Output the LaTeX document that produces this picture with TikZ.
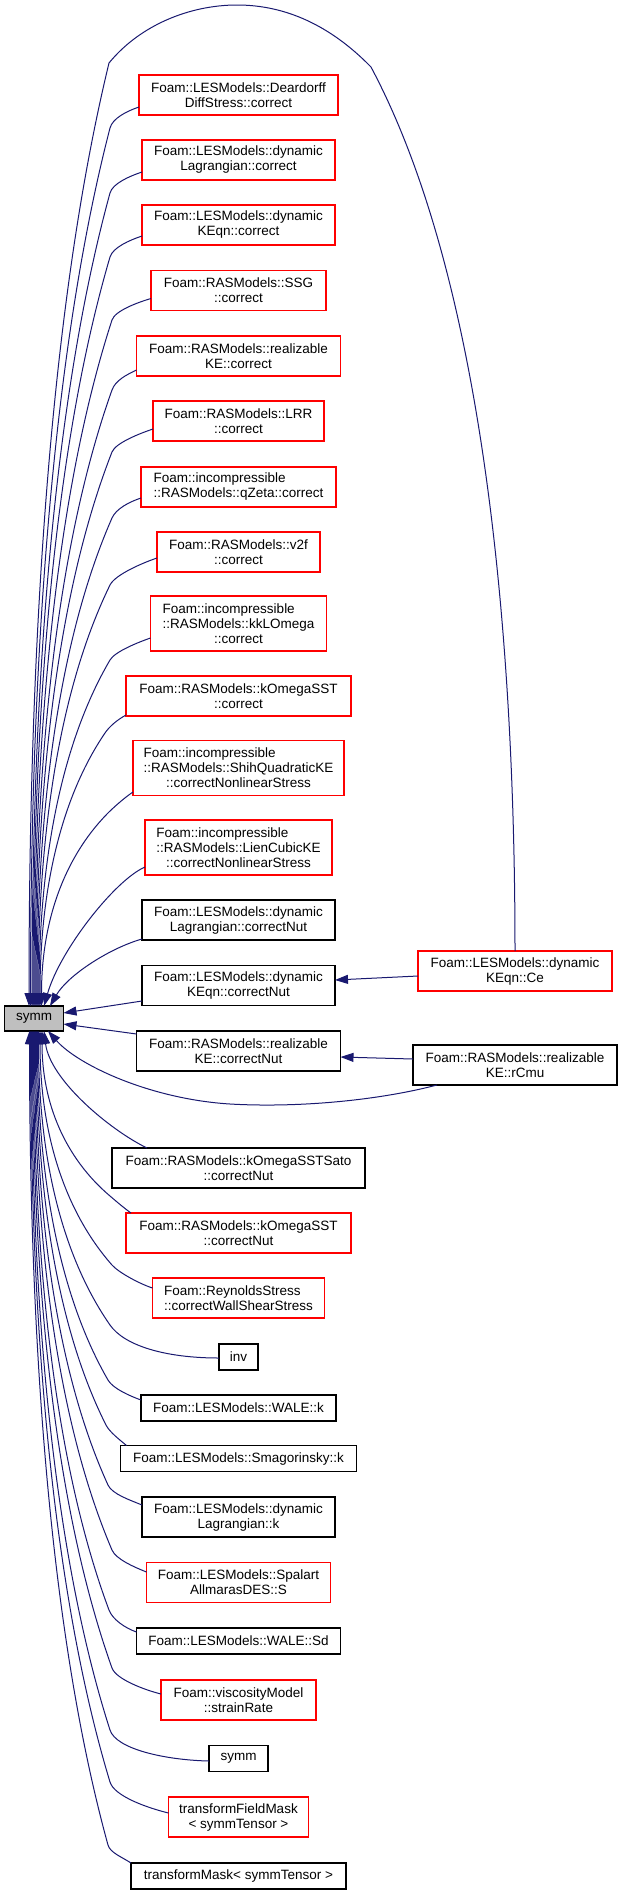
\documentclass[tikz,border=0pt]{standalone}
\usepackage{fontspec}
\setmainfont{Liberation Sans}
\usetikzlibrary{arrows.meta,calc}
\definecolor{edgeblue}{HTML}{191970}
\definecolor{boxred}{HTML}{FF0000}
\definecolor{focusgray}{HTML}{BFBFBF}
\tikzset{
  box/.style={draw=black, line width=1.1pt, fill=white, inner sep=0pt, outer sep=0pt,
    align=center, font=\fontsize{13.5}{15}\selectfont},
  redbox/.style={box, draw=boxred},
  edge/.style={draw=edgeblue, line width=1pt, -{Triangle[length=13pt,width=9pt]}},
}
\newcommand\leftln[2]{\rlap{#1}\phantom{#2}}
% #1 start, #2 C1, #3 pull, #4 knee, #5 Q, #6 end (numeric), #7 end anchor
\newcommand\cedge[7]{\draw[edge] (#1) .. controls (#2) and ($(#4)!-#3pt!(#5)$) .. (#4) .. controls ($(#4)!2/3!(#5)$) and ($(#6)!2/3!(#5)$) .. (#7);}
\begin{document}
\begin{tikzpicture}[x=1pt,y=-1pt]
\useasboundingbox[fill=white] (0,0) rectangle (623,1895);

% focus node
\node[box, fill=focusgray, minimum width=59pt, minimum height=25pt] (symm) at (34,1018.5) {symm};

% callers column
\node[redbox, minimum width=199pt, minimum height=40pt] (dd) at (238.5,95) {Foam::LESModels::Deardorff\\DiffStress::correct};
\node[redbox, minimum width=193pt, minimum height=40pt] (dlc) at (238.5,160) {Foam::LESModels::dynamic\\Lagrangian::correct};
\node[redbox, minimum width=193pt, minimum height=40pt] (dkc) at (238.5,225) {Foam::LESModels::dynamic\\KEqn::correct};
\node[redbox, minimum width=175pt, minimum height=40pt] (ssg) at (238.5,290.5) {Foam::RASModels::SSG\\::correct};
\node[redbox, minimum width=204pt, minimum height=40pt] (rkc) at (238.5,356) {Foam::RASModels::realizable\\KE::correct};
\node[redbox, minimum width=171pt, minimum height=40pt] (lrr) at (238.5,421) {Foam::RASModels::LRR\\::correct};
\node[redbox, minimum width=195pt, minimum height=40pt] (qz) at (238.5,487) {\leftln{Foam::incompressible}{::RASModels::qZeta::correct}\\::RASModels::qZeta::correct};
\node[redbox, minimum width=163pt, minimum height=40pt] (v2f) at (238.5,552) {Foam::RASModels::v2f\\::correct};
\node[redbox, minimum width=176pt, minimum height=55pt] (kkl) at (238.5,623.5) {\leftln{Foam::incompressible}{::RASModels::kkLOmega}\\::RASModels::kkLOmega\\::correct};
\node[redbox, minimum width=225pt, minimum height=40pt] (koc) at (238.5,696) {Foam::RASModels::kOmegaSST\\::correct};
\node[redbox, minimum width=211pt, minimum height=55pt] (shih) at (238.5,768) {\leftln{Foam::incompressible}{::RASModels::ShihQuadraticKE}\\::RASModels::ShihQuadraticKE\\::correctNonlinearStress};
\node[redbox, minimum width=187pt, minimum height=55pt] (lien) at (238.5,847.5) {\leftln{Foam::incompressible}{::RASModels::LienCubicKE}\\::RASModels::LienCubicKE\\::correctNonlinearStress};
\node[box, minimum width=193pt, minimum height=40pt] (dlcn) at (238.5,920) {Foam::LESModels::dynamic\\Lagrangian::correctNut};
\node[box, minimum width=193pt, minimum height=40pt] (dkcn) at (238.5,985.5) {Foam::LESModels::dynamic\\KEqn::correctNut};
\node[box, minimum width=204pt, minimum height=40pt] (rkcn) at (238.5,1051) {Foam::RASModels::realizable\\KE::correctNut};
\node[box, minimum width=253pt, minimum height=40pt] (sato) at (238.5,1168) {Foam::RASModels::kOmegaSSTSato\\::correctNut};
\node[redbox, minimum width=225pt, minimum height=40pt] (kocn) at (238.5,1233) {Foam::RASModels::kOmegaSST\\::correctNut};
\node[redbox, minimum width=172pt, minimum height=40pt] (rs) at (238.5,1298) {\leftln{Foam::ReynoldsStress}{::correctWallShearStress}\\::correctWallShearStress};
\node[box, minimum width=39pt, minimum height=26pt] (inv) at (238.5,1357) {inv};
\node[box, minimum width=195pt, minimum height=26pt] (walek) at (238.5,1408) {Foam::LESModels::WALE::k};
\node[box, minimum width=236pt, minimum height=26pt] (smag) at (238.5,1458.5) {Foam::LESModels::Smagorinsky::k};
\node[box, minimum width=193pt, minimum height=40pt] (dlk) at (238.5,1517) {Foam::LESModels::dynamic\\Lagrangian::k};
\node[redbox, minimum width=184pt, minimum height=40pt] (sa) at (238.5,1582.5) {Foam::LESModels::Spalart\\AllmarasDES::S};
\node[box, minimum width=204pt, minimum height=26pt] (walesd) at (238.5,1641) {Foam::LESModels::WALE::Sd};
\node[redbox, minimum width=155pt, minimum height=40pt] (visc) at (238.5,1700) {Foam::viscosityModel\\::strainRate};
\node[box, minimum width=59pt, minimum height=26pt] (symm2) at (238.5,1758.5) {symm};
\node[redbox, minimum width=140pt, minimum height=40pt] (tfm) at (238.5,1817) {transformFieldMask\\< symmTensor >};
\node[box, minimum width=215pt, minimum height=26pt] (tm) at (238.5,1876) {transformMask< symmTensor >};

% right column
\node[redbox, minimum width=194pt, minimum height=40pt] (ce) at (515,971) {Foam::LESModels::dynamic\\KEqn::Ce};
\node[box, minimum width=204pt, minimum height=40pt] (rcmu) at (515,1065) {Foam::RASModels::realizable\\KE::rCmu};

% edge from Ce over the top
\draw[edge] (ce.north) .. controls (515,700) and (495,300) .. (371,67)
  .. controls (330,25) and (285,5) .. (237,5)
  .. controls (190,5) and (140,25) .. (109,63)
  .. controls (55.7,283) and (29,597) .. ([xshift=-5pt]symm.north);

% upper callers
\cedge{[yshift=-12pt]dd.west}{127,111}{10}{110,128}{30.5,435.3}{30.5,1006}{[xshift=-3.5pt]symm.north}
\cedge{[yshift=-12pt]dlc.west}{130,176}{10}{110,193}{32,477.6}{32,1006}{[xshift=-2pt]symm.north}
\cedge{[yshift=-11pt]dkc.west}{130,240}{10}{110,257}{33,519.2}{33,1006}{[xshift=-1pt]symm.north}
\cedge{[yshift=-8pt]ssg.west}{139,302}{10}{112,320}{34,560.1}{34,1006}{symm.north}
\cedge{[yshift=-14pt]rkc.west}{126,375}{10}{112,390}{35,605.6}{35,1006}{[xshift=1pt]symm.north}
\cedge{[yshift=-8pt]lrr.west}{141,433}{10}{112,452}{36,645.9}{36,1006}{[xshift=2pt]symm.north}
\cedge{[yshift=-11pt]qz.west}{129,502}{10}{112,518}{37,688.8}{37,1006}{[xshift=3pt]symm.north}
\cedge{[yshift=-6pt]v2f.west}{145,562}{12}{110,585}{38,732.4}{38,1006}{[xshift=4pt]symm.north}
\cedge{[yshift=-14.5pt]kkl.west}{139,642}{10}{110,660}{39,781.1}{39,1006}{[xshift=5pt]symm.north}
\cedge{[yshift=-19pt]koc.west}{117,720}{8}{105,733}{40,828.6}{40,1006}{[xshift=6pt]symm.north}
\cedge{[yshift=-24pt]shih.west}{124,798}{8}{107,814}{41.5,881.2}{41.5,1006}{[xshift=7.5pt]symm.north}
\draw[edge] ([yshift=-19.5pt]lien.west) .. controls (115,880) and (60,950) .. ([xshift=10pt]symm.north);
\draw[edge] ([yshift=-19pt]dlcn.west) .. controls (110,948) and (68,975) .. ([xshift=16pt]symm.north);

% side callers
\draw[edge] ([yshift=-15.5pt]dkcn.west) -- ([yshift=5.5pt]symm.east);
\draw[edge] ([yshift=17pt]rkcn.west) -- ([yshift=-5.5pt]symm.east);
\draw[edge] ([yshift=-5pt]ce.west) -- ([yshift=5.5pt]dkcn.east);
\draw[edge] ([yshift=6pt]rcmu.west) -- ([yshift=-6pt]rkcn.east);
\draw[edge] ([xshift=-78pt]rcmu.south) .. controls (380,1100) and (300,1108) .. (230,1104)
  .. controls (150,1099) and (78,1065) .. ([xshift=14pt]symm.south);

% lower callers
\draw[edge] ([xshift=35pt]sato.north west) .. controls (110,1130) and (50,1080) .. ([xshift=10pt]symm.south);
\cedge{[xshift=5pt]kocn.north west}{124,1208}{8}{110,1196}{42,1138.3}{42,1031}{[xshift=8pt]symm.south}
\cedge{[yshift=10pt]rs.west}{140,1284}{10}{112,1265}{40,1183.1}{40,1031}{[xshift=6pt]symm.south}
\cedge{[yshift=-1pt]inv.west}{165,1358}{25}{110,1325}{38.5,1222.1}{38.5,1031}{[xshift=4.5pt]symm.south}
\cedge{[yshift=8pt]walek.west}{130,1396}{10}{108,1380}{37.5,1257.9}{37.5,1031}{[xshift=3.5pt]symm.south}
\cedge{[xshift=6pt]smag.north west}{120,1440}{8}{106,1425}{36.5,1287.1}{36.5,1031}{[xshift=2.5pt]symm.south}
\cedge{[yshift=12pt]dlk.west}{130,1500}{10}{108,1485}{35.5,1326.1}{35.5,1031}{[xshift=1.5pt]symm.south}
\cedge{[yshift=10.5pt]sa.west}{134,1567}{10}{112,1550}{34.5,1368.4}{34.5,1031}{[xshift=0.5pt]symm.south}
\cedge{[yshift=9pt]walesd.west}{125,1628}{10}{109,1610}{33.5,1407.4}{33.5,1031}{[xshift=-0.5pt]symm.south}
\cedge{[yshift=6pt]visc.west}{145,1690}{12}{112,1668}{32.5,1445}{32.5,1031}{[xshift=-1.5pt]symm.south}
\cedge{[yshift=-2.5pt]symm2.west}{165,1760}{20}{110,1730}{31.5,1485.4}{31.5,1031}{[xshift=-2.5pt]symm.south}
\cedge{[yshift=4pt]tfm.west}{148,1808}{15}{110,1782}{30.5,1519.2}{30.5,1031}{[xshift=-3.5pt]symm.south}
\cedge{tm.north west}{122,1857}{8}{108,1845}{29.5,1560.1}{29.5,1031}{[xshift=-4.5pt]symm.south}
\end{tikzpicture}
\end{document}
